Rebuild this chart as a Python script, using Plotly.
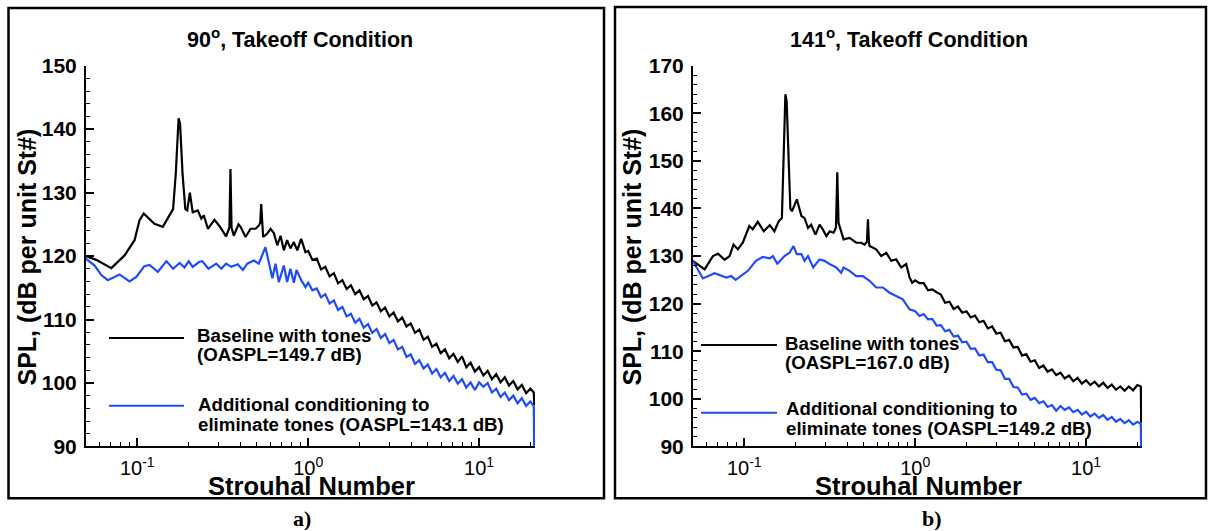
import plotly.graph_objects as go

# ---------------- data ----------------
# common high-frequency Strouhal grid
st_hi = [1.000, 1.059, 1.122, 1.189, 1.259, 1.334, 1.413, 1.496, 1.585, 1.679,
         1.778, 1.884, 1.995, 2.113, 2.239, 2.371, 2.512, 2.661, 2.818, 2.985,
         3.162, 3.350, 3.548, 3.758, 3.981, 4.217, 4.467, 4.732, 5.012, 5.309,
         5.623, 5.957, 6.310, 6.683, 7.079, 7.499, 7.943, 8.414, 8.913, 9.441,
         10.00, 10.59, 11.22, 11.89, 12.59, 13.34, 14.13, 14.96, 15.85, 16.79,
         17.78, 18.84, 19.95]
st_end = [20.9, 21.0]

# Panel a) 90 deg - baseline with tones
st_a_base_lo = [0.050, 0.0575, 0.0705, 0.0843, 0.0964, 0.103, 0.109, 0.118, 0.126, 0.141,
                0.162, 0.168, 0.1745, 0.178, 0.184, 0.191, 0.196, 0.203, 0.211, 0.226,
                0.237, 0.245, 0.259, 0.283, 0.303, 0.331, 0.346, 0.351, 0.356, 0.367,
                0.391, 0.402, 0.430, 0.460, 0.492, 0.514, 0.524, 0.531, 0.538, 0.545,
                0.574, 0.603, 0.630, 0.659, 0.689, 0.720, 0.753, 0.787, 0.824, 0.863,
                0.910, 0.964]
spl_a_base_lo = [120.0, 119.4, 118.1, 120.1, 122.5, 125.6, 126.7, 125.9, 125.1, 124.6,
                 127.4, 133.0, 141.7, 140.8, 133.0, 127.4, 127.2, 130.0, 126.9, 127.2,
                 125.9, 126.4, 124.3, 125.7, 124.7, 123.1, 124.5, 133.7, 124.5, 123.2,
                 125.0, 124.6, 123.0, 124.3, 124.3, 124.8, 125.2, 128.2, 124.0, 123.0,
                 123.5, 124.3, 123.6, 121.7, 123.2, 120.9, 122.5, 121.2, 122.2, 120.9,
                 122.7, 120.6]
spl_a_base_hi = [120.8, 119.4, 119.6, 117.9, 118.3, 116.8, 117.3, 115.7, 116.2, 114.8,
                 115.4, 114.0, 114.6, 113.2, 113.7, 112.2, 112.7, 111.3, 111.9, 110.5,
                 111.1, 109.7, 110.3, 108.9, 109.4, 107.9, 108.4, 106.8, 107.3, 105.7,
                 106.2, 104.7, 105.3, 103.9, 104.6, 103.3, 104.2, 102.5, 103.2, 101.8,
                 102.5, 101.2, 101.9, 100.6, 101.4, 100.1, 100.9, 99.6, 100.3, 99.0,
                 99.7, 98.4, 99.1]
spl_a_base_end = [98.5, 96.5]

# Panel a) 90 deg - additional conditioning
st_a_add_lo = [0.050, 0.0563, 0.0616, 0.0673, 0.0787, 0.0901, 0.0987, 0.110, 0.118, 0.132,
               0.148, 0.162, 0.177, 0.189, 0.200, 0.211, 0.231, 0.240, 0.261, 0.290,
               0.310, 0.331, 0.355, 0.387, 0.415, 0.440, 0.481, 0.514, 0.562, 0.589,
               0.617, 0.644, 0.673, 0.720, 0.753, 0.787, 0.824, 0.855, 0.910, 0.964]
spl_a_add_lo = [119.6, 118.5, 117.0, 116.2, 117.1, 116.0, 116.7, 118.4, 118.6, 117.5,
                119.2, 118.0, 118.9, 118.2, 119.2, 118.3, 119.1, 119.2, 118.0, 118.8,
                118.0, 118.8, 118.3, 118.7, 117.8, 118.8, 119.3, 118.8, 121.4, 118.8,
                116.5, 118.8, 115.9, 118.5, 115.9, 118.0, 115.8, 117.8, 116.2, 115.1]
spl_a_add_hi = [115.8, 114.6, 114.9, 113.5, 114.0, 112.5, 113.0, 111.5, 112.0, 110.5,
                110.9, 109.5, 110.1, 108.7, 109.3, 107.9, 108.5, 107.1, 107.7, 106.3,
                106.8, 105.3, 105.7, 104.1, 104.5, 103.0, 103.6, 102.3, 102.9, 101.5,
                102.2, 100.9, 101.6, 100.3, 101.1, 99.9, 100.6, 99.3, 100.1, 98.9,
                100.1, 99.4, 100.0, 98.5, 99.1, 97.8, 98.5, 97.3, 98.0, 96.8,
                97.6, 96.4, 97.1]
spl_a_add_end = [96.3, 89.5]

# Panel b) 141 deg - baseline with tones
st_b_base_lo = [0.050, 0.0586, 0.0655, 0.0702, 0.0768, 0.082, 0.0865, 0.0917, 0.098, 0.107,
                0.112, 0.120, 0.130, 0.141, 0.150, 0.159, 0.166, 0.170, 0.174, 0.177,
                0.181, 0.186, 0.190, 0.203, 0.216, 0.225, 0.236, 0.246, 0.261, 0.276,
                0.288, 0.302, 0.316, 0.333, 0.344, 0.350, 0.356, 0.364, 0.381, 0.413,
                0.452, 0.483, 0.506, 0.522, 0.529, 0.536, 0.541, 0.591, 0.633, 0.677,
                0.724, 0.774, 0.828, 0.886, 0.927, 0.960]
spl_b_base_lo = [129.0, 127.2, 130.0, 130.5, 129.2, 130.0, 132.4, 131.4, 132.8, 136.3,
                 135.6, 137.2, 135.2, 136.5, 135.2, 137.3, 138.0, 152.0, 164.0, 162.5,
                 152.0, 140.0, 139.4, 141.9, 138.4, 138.0, 135.9, 136.6, 134.5, 136.6,
                 135.6, 134.2, 135.2, 134.9, 136.0, 147.6, 137.0, 135.9, 133.5, 133.8,
                 132.8, 132.8, 132.4, 133.0, 137.7, 133.0, 132.1, 131.4, 130.0, 130.7,
                 129.0, 129.3, 127.6, 128.3, 125.5, 124.4]
spl_b_base_hi = [124.9, 124.3, 124.3, 122.8, 123.0, 122.4, 121.9, 120.2, 120.4, 118.9,
                 119.4, 118.1, 118.4, 117.1, 117.5, 116.1, 116.4, 114.8, 115.2, 113.7,
                 113.9, 112.1, 112.4, 110.8, 110.9, 109.1, 109.4, 107.8, 108.1, 106.5,
                 107.0, 105.7, 106.2, 105.0, 105.5, 104.3, 104.9, 103.7, 104.4, 103.2,
                 103.9, 102.9, 103.6, 102.6, 103.4, 102.3, 103.0, 101.9, 102.6, 101.7,
                 102.6, 101.8, 102.9]
spl_b_base_end = [102.6, 95.0]

# Panel b) 141 deg - additional conditioning
st_b_add_lo = [0.050, 0.0573, 0.067, 0.0785, 0.0839, 0.089, 0.105, 0.117, 0.128, 0.141,
               0.147, 0.156, 0.172, 0.184, 0.194, 0.203, 0.216, 0.225, 0.236, 0.253,
               0.276, 0.295, 0.316, 0.345, 0.369, 0.381, 0.413, 0.452, 0.494, 0.541,
               0.591, 0.647, 0.708, 0.774, 0.846, 0.927, 0.960]
spl_b_add_lo = [129.0, 125.3, 126.4, 125.5, 125.8, 125.0, 126.9, 129.0, 129.8, 129.5,
                130.0, 128.4, 130.0, 130.7, 132.1, 130.4, 130.4, 129.0, 130.0, 127.6,
                129.3, 129.0, 128.3, 127.6, 126.5, 127.6, 126.9, 125.8, 125.8, 124.8,
                123.4, 123.4, 122.3, 121.6, 120.9, 118.8, 118.6]
spl_b_add_hi = [118.4, 117.4, 117.8, 116.7, 116.8, 115.4, 115.5, 114.2, 114.5, 113.1,
                113.3, 111.9, 112.0, 110.5, 110.6, 109.1, 109.3, 107.7, 107.7, 106.1,
                106.0, 104.2, 104.2, 102.5, 102.4, 100.9, 101.1, 99.8, 100.2, 99.1,
                99.5, 98.3, 98.7, 97.5, 98.5, 97.7, 98.2, 97.2, 97.7, 96.7,
                97.3, 96.3, 96.9, 96.0, 96.6, 95.6, 96.2, 95.2, 95.8, 94.9,
                95.5, 94.6, 95.2]
spl_b_add_end = [94.7, 89.5]

titles = ["90<sup>o</sup>, Takeoff Condition", "141<sup>o</sup>, Takeoff Condition"]
legend_a = [("Baseline with tones", "(OASPL=149.7 dB)"),
            ("Additional conditioning to", "eliminate tones (OASPL=143.1 dB)")]
legend_b = [("Baseline with tones", "(OASPL=167.0 dB)"),
            ("Additional conditioning to", "eliminate tones (OASPL=149.2 dB)")]
x_tickvals = [0.1, 1, 10]
x_ticktext = ["10<sup>-1</sup>", "10<sup>0</sup>", "10<sup>1</sup>"]
x_minor = [0.06, 0.07, 0.08, 0.09, 0.2, 0.3, 0.4, 0.5, 0.6, 0.7, 0.8, 0.9,
           2, 3, 4, 5, 6, 7, 8, 9, 20]

# ---------------- figure ----------------
W, H = 1210, 551          # captured page is fitted into a 1210x531 picture
OUT_H = 531               # positions below are given in picture pixels
def px(x): return x / W
def py(y): return 1 - y / OUT_H

BLACK = "#000000"
BLUE = "#1f4bff"
SANS = "Liberation Sans, Arial, Helvetica, sans-serif"

fig = go.Figure()
series = [
    (st_a_base_lo + st_hi + st_end, spl_a_base_lo + spl_a_base_hi + spl_a_base_end, BLACK, "x", "y"),
    (st_a_add_lo + st_hi + st_end, spl_a_add_lo + spl_a_add_hi + spl_a_add_end, BLUE, "x", "y"),
    (st_b_base_lo + st_hi + st_end, spl_b_base_lo + spl_b_base_hi + spl_b_base_end, BLACK, "x2", "y2"),
    (st_b_add_lo + st_hi + st_end, spl_b_add_lo + spl_b_add_hi + spl_b_add_end, BLUE, "x2", "y2"),
]
for xs, ys, col, xa, ya in series:
    fig.add_trace(go.Scatter(x=xs, y=ys, mode="lines", xaxis=xa, yaxis=ya,
                             line=dict(color=col, width=2.2), hoverinfo="skip",
                             showlegend=False, cliponaxis=True))

xr = [-1.30, 1.327]
ydom = [py(447), py(64)]
common_x = dict(type="log", range=xr, showline=True, linecolor=BLACK, linewidth=2,
                ticks="inside", ticklen=8, tickwidth=1.5, tickcolor=BLACK,
                tickvals=x_tickvals, ticktext=x_ticktext, showgrid=False, zeroline=False,
                tickfont=dict(family=SANS, size=20, color=BLACK),
                minor=dict(ticks="inside", ticklen=4, tickwidth=1, tickcolor=BLACK,
                           tickvals=x_minor, showgrid=False),
                ticklabelstandoff=3)
common_y = dict(showline=True, linecolor=BLACK, linewidth=2, dtick=10,
                ticks="inside", ticklen=8, tickwidth=1.5, tickcolor=BLACK,
                showgrid=False, zeroline=False,
                tickfont=dict(family=SANS, size=21, color=BLACK, weight="bold"),
                minor=dict(ticks="inside", ticklen=4, tickwidth=1, tickcolor=BLACK,
                           dtick=2, showgrid=False),
                ticklabelstandoff=3)

fig.update_layout(
    width=W, height=H, margin=dict(l=0, r=0, t=0, b=0),
    paper_bgcolor="white", plot_bgcolor="white", hovermode=False,
    xaxis=dict(domain=[px(86), px(535)], anchor="y", **common_x),
    yaxis=dict(domain=ydom, range=[90, 150], anchor="x", **common_y),
    xaxis2=dict(domain=[px(693), px(1142)], anchor="y2", **common_x),
    yaxis2=dict(domain=ydom, range=[90, 170], anchor="x2", **common_y),
)

shapes = []
# panel frames
shapes.append(dict(type="rect", xref="paper", yref="paper", x0=px(8.5), x1=px(604),
                   y0=py(499), y1=py(6), line=dict(color=BLACK, width=2.5)))
shapes.append(dict(type="rect", xref="paper", yref="paper", x0=px(615), x1=px(1206),
                   y0=py(499), y1=py(5), line=dict(color=BLACK, width=2.5)))
# legend sample lines
for (x0, x1, yb, yl) in [(109, 184, 338, 406), (701, 777, 345, 413)]:
    shapes.append(dict(type="line", xref="paper", yref="paper", x0=px(x0), x1=px(x1),
                       y0=py(yb), y1=py(yb), line=dict(color=BLACK, width=2)))
    shapes.append(dict(type="line", xref="paper", yref="paper", x0=px(x0), x1=px(x1),
                       y0=py(yl), y1=py(yl), line=dict(color=BLUE, width=2)))
fig.update_layout(shapes=shapes)

ann = []
def text(x, y, s, size, bold=False, family=SANS, xanchor="center", angle=0):
    ann.append(dict(xref="paper", yref="paper", x=px(x), y=py(y), text=s, showarrow=False,
                    xanchor=xanchor, yanchor="middle", textangle=angle,
                    font=dict(family=family, size=size, color=BLACK,
                              weight="bold" if bold else "normal")))

# titles
text(300, 36, titles[0], 21.5, bold=True)
text(909, 36, titles[1], 21.5, bold=True)
# axis titles
text(311, 487, "Strouhal Number", 25.5, bold=True)
text(918, 487, "Strouhal Number", 25.5, bold=True)
text(27, 257, "SPL, (dB per unit St#)", 25, bold=True, angle=-90)
text(632, 257, "SPL, (dB per unit St#)", 25, bold=True, angle=-90)
# legends
for (xt, ys, lg) in [(195, [335, 355, 405, 425], legend_a), (783, [343, 363, 409, 429], legend_b)]:
    text(xt, ys[0], lg[0][0], 18.7, bold=True, xanchor="left")
    text(xt, ys[1], lg[0][1], 18.7, bold=True, xanchor="left")
    text(xt + 1, ys[2], lg[1][0], 18.7, bold=True, xanchor="left")
    text(xt + 1, ys[3], lg[1][1], 18.7, bold=True, xanchor="left")
# panel labels
text(302, 519, "a)", 22, bold=True, family="Liberation Serif, Times New Roman, serif")
text(932, 519, "b)", 22, bold=True, family="Liberation Serif, Times New Roman, serif")
fig.update_layout(annotations=ann)

# pull the graph to the very top of the page (removes the default page offset)
page_fix = ("var g=document.getElementById('{plot_id}');"
            "if(g){g.style.position='relative';g.style.top='-10px';}"
            "document.body.style.margin='0';document.body.style.overflow='hidden';")
fig.write_html("out.html", post_script=page_fix)
